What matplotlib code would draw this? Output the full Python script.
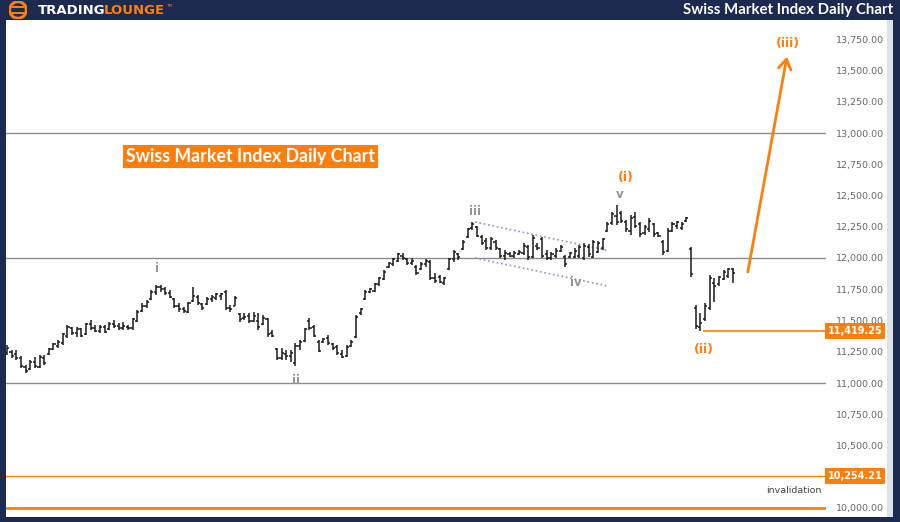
import numpy as np
import matplotlib
matplotlib.use('Agg')
import matplotlib.pyplot as plt
from matplotlib.patches import Rectangle, Circle
from matplotlib.ticker import FuncFormatter

# daily OHLC bars (SMI)
opens = [11240, 11250, 11230, 11200, 11130, 11110, 11170, 11130, 11200, 11230,
         11270, 11300, 11320, 11380, 11440, 11400, 11430, 11390, 11470, 11440,
         11420, 11450, 11430, 11470, 11460, 11440, 11450, 11440, 11500, 11580,
         11620, 11670, 11730, 11770, 11750, 11720, 11670, 11620, 11590, 11570,
         11660, 11690, 11630, 11630, 11670, 11680, 11700, 11730, 11600, 11620,
         11550, 11520, 11540, 11500, 11500, 11470, 11510, 11400, 11270, 11200,
         11230, 11220, 11160, 11300, 11340, 11500, 11450, 11330, 11330, 11360,
         11310, 11290, 11230, 11220, 11300, 11370, 11560, 11670, 11730, 11740,
         11790, 11830, 11930, 11950, 11980, 12020, 11990, 11960, 11930, 11910,
         11950, 11970, 11840, 11850, 11800, 11910, 11990, 12030, 12070, 12170,
         12240, 12250, 12170, 12140, 12080, 12130, 12070, 12020, 12030, 12020,
         12030, 12040, 12090, 12010, 12100, 12150, 12030, 12000, 12020, 12060,
         12010, 12010, 12010, 12020, 12000, 12090, 12010, 12050, 12080, 12220,
         12280, 12340, 12360, 12290, 12220, 12330, 12270, 12200, 12230, 12270,
         12200, 12130, 12060, 12220, 12260, 12240, 12300, 12070, 11600, 11450,
         11510, 11600, 11800, 11790, 11830, 11860, 11910]
highs = [11304, 11264, 11264, 11216, 11144, 11184, 11208, 11224, 11224, 11280,
         11320, 11344, 11400, 11464, 11448, 11448, 11440, 11480, 11504, 11464,
         11464, 11464, 11488, 11504, 11480, 11488, 11464, 11520, 11584, 11640,
         11664, 11744, 11784, 11784, 11768, 11744, 11680, 11640, 11608, 11648,
         11768, 11704, 11640, 11688, 11704, 11720, 11720, 11744, 11624, 11696,
         11560, 11560, 11560, 11570, 11560, 11544, 11520, 11424, 11280, 11280,
         11264, 11264, 11320, 11344, 11440, 11520, 11464, 11344, 11360, 11384,
         11320, 11304, 11264, 11304, 11344, 11544, 11600, 11744, 11760, 11800,
         11850, 11904, 11968, 12000, 12040, 12040, 12000, 12000, 11944, 11968,
         11990, 11984, 11880, 11864, 11848, 12000, 12064, 12040, 12144, 12240,
         12288, 12260, 12184, 12160, 12168, 12144, 12080, 12064, 12048, 12060,
         12064, 12120, 12104, 12184, 12120, 12168, 12064, 12048, 12080, 12104,
         12024, 12048, 12080, 12104, 12120, 12110, 12144, 12140, 12160, 12288,
         12368, 12424, 12380, 12304, 12344, 12368, 12288, 12264, 12320, 12280,
         12208, 12144, 12240, 12288, 12300, 12288, 12328, 12088, 11624, 11560,
         11640, 11864, 11840, 11860, 11904, 11920, 11920]
lows = [11224, 11200, 11184, 11120, 11080, 11104, 11120, 11120, 11144, 11224,
        11264, 11280, 11304, 11360, 11384, 11368, 11368, 11384, 11424, 11408,
        11400, 11400, 11424, 11440, 11424, 11424, 11424, 11424, 11488, 11568,
        11600, 11664, 11704, 11728, 11704, 11680, 11600, 11568, 11560, 11560,
        11648, 11624, 11584, 11624, 11648, 11664, 11664, 11584, 11568, 11616,
        11488, 11504, 11480, 11490, 11424, 11464, 11368, 11368, 11184, 11184,
        11184, 11168, 11136, 11264, 11330, 11424, 11368, 11248, 11320, 11304,
        11264, 11224, 11200, 11208, 11288, 11360, 11544, 11664, 11720, 11728,
        11780, 11824, 11920, 11940, 11968, 11984, 11944, 11944, 11864, 11904,
        11930, 11824, 11800, 11800, 11784, 11904, 11968, 11984, 12064, 12160,
        12224, 12170, 12104, 12064, 12064, 12064, 12000, 11984, 12008, 12000,
        12024, 12024, 11984, 12000, 12064, 12000, 11984, 11984, 12000, 12048,
        11928, 12000, 12000, 12000, 11984, 12010, 12000, 12040, 12064, 12208,
        12264, 12264, 12280, 12208, 12184, 12240, 12168, 12184, 12208, 12168,
        12168, 12024, 12048, 12208, 12230, 12224, 12288, 11848, 11430, 11419.25,
        11500, 11584, 11648, 11780, 11824, 11840, 11800]
closes = [11280, 11220, 11200, 11140, 11100, 11170, 11140, 11210, 11160, 11270,
          11310, 11330, 11390, 11450, 11400, 11430, 11380, 11470, 11440, 11420,
          11450, 11410, 11470, 11460, 11440, 11460, 11440, 11510, 11570, 11620,
          11650, 11730, 11770, 11750, 11720, 11690, 11620, 11590, 11580, 11640,
          11700, 11640, 11600, 11670, 11690, 11710, 11710, 11600, 11590, 11680,
          11510, 11530, 11500, 11540, 11450, 11520, 11390, 11380, 11200, 11240,
          11220, 11240, 11300, 11330, 11430, 11440, 11380, 11260, 11350, 11320,
          11280, 11240, 11210, 11290, 11330, 11530, 11590, 11730, 11750, 11790,
          11840, 11890, 11960, 11990, 12030, 12000, 11960, 11980, 11880, 11950,
          11980, 11840, 11820, 11810, 11840, 11990, 12050, 12010, 12130, 12230,
          12270, 12180, 12120, 12080, 12150, 12080, 12020, 12040, 12020, 12040,
          12050, 12100, 12010, 12160, 12080, 12020, 12000, 12030, 12060, 12090,
          11950, 12040, 12060, 12090, 12100, 12030, 12130, 12120, 12150, 12270,
          12350, 12290, 12300, 12230, 12320, 12260, 12190, 12250, 12300, 12190,
          12180, 12050, 12220, 12270, 12290, 12270, 12320, 11870, 11460, 11480,
          11620, 11840, 11780, 11850, 11890, 11910, 11880]

# 10,250 is hidden behind the invalidation tag on the reference
price_ticks = [10000, 10500, 10750, 11000, 11250, 11500, 11750, 12000, 12250,
               12500, 12750, 13000, 13250, 13500, 13750]
grey_levels = [13000, 12000, 11000]
low_ii = 11419.25
invalidation = 10254.21

# wave labels: (text, bar position, price, colour key)
wave_labels = [('i', 32.2, 11920, 'grey'), ('ii', 62.1, 11020, 'grey'),
               ('iii', 100.6, 12370, 'grey'), ('iv', 122.3, 11805, 'grey'),
               ('v', 131.7, 12505, 'grey'), ('(i)', 133.0, 12640, 'orange'),
               ('(ii)', 149.8, 11270, 'orange'), ('(iii)', 167.8, 13715, 'orange')]
channel_x = [100.6, 129.1]
channel_top = [12288, 12060]
channel_bot = [12000, 11776]
arrow_from = (159.2, 11888)
arrow_to = (167.6, 13610)

NAVY = '#1b2a4e'
ORANGE = '#ff7f0e'
GREY = '#8c8c8c'

W, H = 900, 522
fig = plt.figure(figsize=(9, 5.22), dpi=100, facecolor=NAVY)

def fx(px):
    return px / W

def fy(py):
    return 1 - py / H

# white chart panel and right strip (behind the axes)
fig.patches.append(Rectangle((fx(6), fy(517)), fx(881), (517 - 20) / H,
                             transform=fig.transFigure, facecolor='white', zorder=-10))
fig.patches.append(Rectangle((fx(887), fy(517)), fx(6), (517 - 20) / H,
                             transform=fig.transFigure, facecolor='#dde1e8', zorder=-10))

ax = fig.add_axes([fx(6), fy(516), 820 / W, 496 / H])
ax.set_facecolor('none')
x = np.arange(len(closes))
ax.set_xlim(-0.2, 176.0)
ax.set_ylim(9936, 13904)

for lvl in grey_levels:
    ax.axhline(lvl, color=GREY, lw=1, zorder=1)
ax.axhline(invalidation, color=ORANGE, lw=1, zorder=1)
ax.axhline(10000, color=ORANGE, lw=2, zorder=1)
ax.hlines(low_ii, 149.6, 176.0, color=ORANGE, lw=1.2, zorder=1)

# OHLC bars
bar_c = '#1a1a1a'
ax.vlines(x, lows, highs, color=bar_c, lw=1.1, zorder=3)
ax.hlines(opens, x - 0.45, x, color=bar_c, lw=1.1, zorder=3)
ax.hlines(closes, x, x + 0.45, color=bar_c, lw=1.1, zorder=3)

# channel
ax.plot(channel_x, channel_top, ls=':', color='#8e98b8', lw=1.2, zorder=2)
ax.plot(channel_x, channel_bot, ls=':', color='#8e98b8', lw=1.2, zorder=2)

for txt, xi, yi, ck in wave_labels:
    if ck == 'grey':
        ax.text(xi, yi, txt, color='#949494', fontsize=8.5, fontweight='bold',
                ha='center', va='center', zorder=4)
    else:
        ax.text(xi, yi, txt, color=ORANGE, fontsize=9, fontweight='bold',
                ha='center', va='center', zorder=4)

ax.annotate('', xy=arrow_to, xytext=arrow_from,
            arrowprops=dict(arrowstyle='->,head_length=0.7,head_width=0.45',
                            color=ORANGE, lw=2, shrinkA=0, shrinkB=0))

# right price axis
for s in ax.spines.values():
    s.set_visible(False)
ax.set_xticks([])
ax.yaxis.tick_right()
ax.set_yticks(price_ticks)
ax.yaxis.set_major_formatter(FuncFormatter(lambda v, p: f'{v:,.2f}'))
ax.tick_params(axis='y', length=0, pad=7, labelsize=6.8, labelcolor='#666666')

for lvl in [low_ii, invalidation]:
    ax.text(1.002, lvl, f'{lvl:,.2f}', transform=ax.get_yaxis_transform(),
            ha='left', va='center', fontsize=7, fontweight='bold', color='white',
            zorder=6, clip_on=False,
            bbox=dict(boxstyle='square,pad=0.3', facecolor=ORANGE, edgecolor='none'))

ax.text(0.995, 10140, 'invalidation', transform=ax.get_yaxis_transform(),
        ha='right', va='center', fontsize=6.8, color='#444444')

ax.text(0.146, 12810, 'Swiss Market Index Daily Chart', transform=ax.get_yaxis_transform(),
        ha='left', va='center', fontsize=12.8, fontweight='bold', color='white',
        family='Lato', zorder=6,
        bbox=dict(boxstyle='square,pad=0.18', facecolor=ORANGE, edgecolor='none'))

# header
fig.text(fx(893), fy(10), 'Swiss Market Index Daily Chart', ha='right', va='center',
         color='white', fontsize=10.8, fontweight='bold', family='Lato')
fig.text(fx(38), fy(10), 'TRADING', ha='left', va='center', color='white',
         fontsize=9.5, fontweight='bold')
fig.text(fx(104), fy(10), 'LOUNGE', ha='left', va='center', color=ORANGE,
         fontsize=9.5, fontweight='bold')
fig.text(fx(166), fy(6), 'TM', ha='left', va='center', color=ORANGE, fontsize=3)

logo = fig.add_axes([fx(8), fy(19), 20 / W, 18 / H])
logo.set_xlim(-1, 1)
logo.set_ylim(-1, 1)
logo.set_aspect('equal')
logo.axis('off')
logo.add_patch(Circle((0, 0), 0.92, facecolor='none', edgecolor=ORANGE, lw=2.2))
for yy in [0.35, -0.35]:
    logo.add_patch(Rectangle((-0.62, yy - 0.12), 1.24, 0.24, facecolor=ORANGE, edgecolor='none'))

fig.savefig('out.png', dpi=100, facecolor=NAVY)
